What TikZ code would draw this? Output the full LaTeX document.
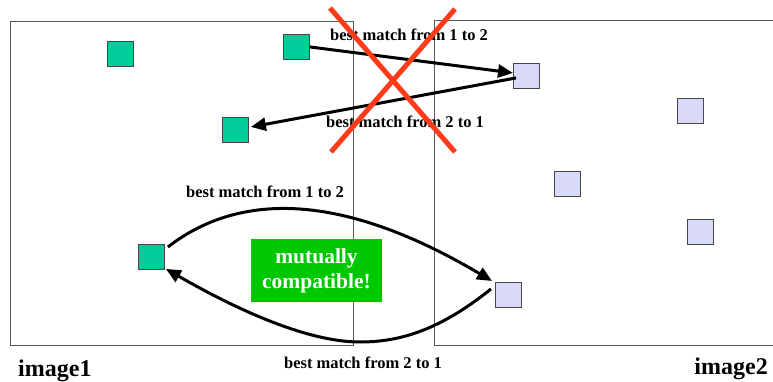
\documentclass[tikz,border=0pt]{standalone}
\usepackage{fontspec}
\setmainfont{Liberation Serif}
\usetikzlibrary{arrows.meta}
\definecolor{featA}{HTML}{00CC99}
\definecolor{featB}{HTML}{D9D9FA}
\definecolor{okgreen}{HTML}{00C800}
\definecolor{crossred}{HTML}{FF3B1A}
\begin{document}
\begin{tikzpicture}[x=1pt,y=-1pt,
  feat/.style={draw=black!72, line width=0.9pt, minimum width=26pt,
    minimum height=25pt, inner sep=0pt, anchor=north west},
  featone/.style={feat, fill=featA},
  feattwo/.style={feat, fill=featB},
  frame/.style={draw=black!65, line width=1pt},
  match/.style={line width=3pt, -{Triangle[length=15pt,width=13pt]}},
  lbl/.style={font=\bfseries\fontsize{16.5}{18}\selectfont, inner sep=0pt, anchor=base},
  imglbl/.style={font=\bfseries\fontsize{24}{26}\selectfont, inner sep=0pt},
  cross/.style={draw=crossred, line width=5pt}
]
\useasboundingbox (0,0) rectangle (773,382);

% image frames
\draw[frame] (10,22) rectangle (353,345);
\draw[frame] (773,21) -- (434,21) -- (434,345) -- (773,345);

% features in image 1
\node[featone] (g1) at (107,41) {};
\node[featone] (g2) at (283,34) {};
\node[featone] (g3) at (222,117) {};
\node[featone] (g4) at (138,244) {};

% features in image 2
\node[feattwo] (l1) at (513,63) {};
\node[feattwo] (l2) at (677,98) {};
\node[feattwo] (l3) at (554,171) {};
\node[feattwo] (l4) at (687,219) {};
\node[feattwo] (l5) at (495,282) {};

% inconsistent pair
\draw[match] (g2.east) -- ([yshift=3pt]l1.west);
\draw[match] ([xshift=3pt,yshift=-2pt]l1.west) -- ([xshift=2pt,yshift=3pt]g3.east);

% consistent pair
\draw[match] ([xshift=3pt,yshift=-3pt]g4.north east)
  .. controls (235,195) and (335,188) .. ([xshift=-3pt,yshift=1pt]l5.north west);
\draw[match] ([xshift=-4pt,yshift=6pt]l5.west)
  .. controls (440,330) and (400,342) .. (360,342)
  .. controls (300,342) and (220,300) .. ([xshift=1pt,yshift=1pt]g4.south east);

% labels
\node[lbl] (t1) at (409,41) {best match from 1 to 2};
\node[lbl] (t2) at (405,128) {best match from 2 to 1};
\node[lbl] (t3) at (265,197) {best match from 1 to 2};
\node[lbl] (t4) at (363,368) {best match from 2 to 1};

\node[imglbl, anchor=base west] (im1) at (18,376) {image1};
\node[imglbl, anchor=base east] (im2) at (768,374) {image2};

% verdict box
\node[fill=okgreen, text=white, minimum width=131pt, minimum height=63pt,
  inner sep=0pt, align=center,
  font=\bfseries\fontsize{21.5}{25}\selectfont] (ok) at (316.5,270.5)
  {mutually\\compatible!};

% rejection cross
\draw[cross] (330,8) -- (455,152);
\draw[cross] (455,9) -- (331,152);
\end{tikzpicture}
\end{document}
